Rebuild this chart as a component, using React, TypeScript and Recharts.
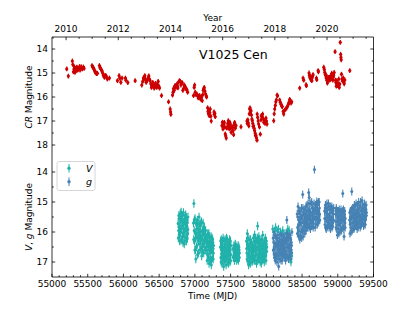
import React from 'react';
import { ScatterChart, Scatter, XAxis, YAxis, ErrorBar } from 'recharts';

const FONT = '"DejaVu Sans", Verdana, sans-serif';

// CR light curve, [MJD, magnitude]
const crPoints: [number, number][] = [
  [55206, 14.83], [55229, 15.13], [55285, 14.5], [55292, 14.65], [55300, 14.95], [55308, 14.83], [55315, 14.75],
  [55322, 14.97], [55330, 14.85], [55336, 14.9], [55343, 14.78], [55350, 14.76], [55357, 14.88], [55364, 14.86],
  [55372, 14.8], [55379, 14.81], [55386, 14.73], [55393, 14.88], [55402, 14.8], [55411, 14.74], [55425, 14.83],
  [55440, 14.75], [55449, 14.81],
  [55561, 14.69], [55568, 14.75], [55579, 14.78], [55590, 14.85], [55598, 14.92], [55607, 14.98], [55617, 15.0],
  [55626, 15.03], [55636, 15.01], [55664, 14.69], [55672, 14.78], [55682, 14.82], [55692, 14.88], [55701, 14.92],
  [55710, 15.0], [55718, 15.08], [55726, 15.12], [55734, 15.18], [55745, 15.1], [55757, 15.12], [55766, 15.2],
  [55776, 15.25], [55804, 15.21],
  [55916, 15.32], [55939, 15.11], [55950, 15.22], [55963, 15.39], [55981, 15.21], [56028, 15.21], [56035, 15.3],
  [56061, 15.4], [56164, 15.32],
  [56257, 15.5], [56270, 15.35], [56280, 15.21], [56290, 15.18], [56299, 15.11], [56308, 15.28], [56318, 15.39],
  [56327, 15.32], [56336, 15.29], [56346, 15.2], [56355, 15.12], [56364, 15.25], [56374, 15.32], [56383, 15.45],
  [56392, 15.6], [56402, 15.5], [56411, 15.39], [56420, 15.55], [56430, 15.63], [56440, 15.5], [56449, 15.43],
  [56458, 15.58], [56467, 15.6], [56476, 15.48], [56486, 15.35], [56495, 15.55], [56505, 15.63], [56533, 15.94],
  [56631, 16.2], [56654, 16.5], [56660, 16.62], [56664, 16.72], [56687, 15.92], [56695, 15.8], [56701, 15.65],
  [56710, 15.72], [56718, 15.55], [56725, 15.53], [56735, 15.6], [56748, 15.46], [56756, 15.55], [56762, 15.62],
  [56771, 15.38], [56785, 15.32], [56795, 15.35], [56804, 15.5], [56812, 15.42], [56822, 15.4], [56832, 15.72],
  [56841, 15.65], [56850, 15.5], [56860, 15.55], [56870, 15.62], [56879, 15.67], [56889, 15.7], [56898, 15.8],
  [56981, 15.94], [56990, 15.6], [56996, 15.5], [57005, 15.8], [57015, 15.9], [57028, 15.88], [57038, 15.95],
  [57047, 16.04], [57055, 15.98], [57066, 15.94], [57075, 16.05], [57085, 16.1], [57095, 16.0], [57103, 16.15],
  [57110, 15.9], [57117, 15.72], [57124, 15.65], [57131, 15.6], [57140, 15.75], [57150, 15.88], [57158, 15.95],
  [57164, 16.0], [57178, 16.45], [57184, 16.6], [57190, 16.7], [57196, 16.55], [57201, 16.78], [57208, 16.65],
  [57215, 16.5], [57222, 16.8], [57229, 17.0], [57268, 16.62], [57271, 16.72], [57278, 16.68], [57285, 16.82],
  [57379, 17.19], [57386, 17.05], [57393, 17.33], [57400, 17.2], [57406, 17.12], [57412, 17.06], [57418, 17.25],
  [57425, 17.54], [57432, 17.62], [57439, 17.71], [57446, 17.3], [57453, 17.24], [57460, 17.1], [57467, 16.99],
  [57474, 17.2], [57481, 17.33], [57488, 17.05], [57496, 17.13], [57502, 17.3], [57509, 17.47], [57516, 17.25],
  [57528, 17.26], [57535, 17.4], [57542, 17.57], [57549, 17.15], [57556, 17.06], [57565, 17.3], [57575, 17.19],
  [57645, 17.24],
  [57729, 17.0], [57734, 17.1], [57741, 16.95], [57748, 17.08], [57755, 17.2], [57762, 16.7], [57766, 16.5],
  [57772, 16.45], [57779, 16.6], [57785, 16.57], [57792, 16.75], [57798, 16.92], [57804, 16.98], [57810, 17.1],
  [57816, 17.22], [57822, 17.2], [57829, 17.3], [57836, 17.4], [57843, 17.5], [57849, 17.6], [57855, 17.61],
  [57862, 17.7], [57869, 17.8], [57872, 16.71], [57879, 16.85], [57886, 17.0], [57892, 17.13], [57904, 17.25],
  [57916, 17.55], [57925, 16.95], [57930, 16.78], [57940, 16.8], [57948, 16.71], [57955, 16.9], [57965, 17.05],
  [57972, 16.99], [57982, 17.1], [57995, 16.88], [58002, 17.0], [58009, 17.13],
  [58103, 16.99], [58110, 16.7], [58117, 16.5], [58126, 16.35], [58133, 16.2], [58140, 16.12], [58150, 15.92],
  [58157, 15.95], [58187, 16.13], [58196, 16.22], [58206, 16.3], [58214, 16.38], [58224, 16.4], [58236, 16.6],
  [58243, 16.71], [58256, 16.55], [58271, 16.5], [58285, 16.45], [58299, 16.38], [58308, 16.3], [58318, 16.22],
  [58327, 16.1], [58336, 16.15], [58346, 16.25], [58355, 16.2],
  [58467, 15.63], [58514, 15.21], [58523, 15.3], [58556, 15.49], [58561, 15.53], [58598, 15.0], [58603, 15.1],
  [58610, 15.2], [58617, 15.15], [58625, 15.25], [58632, 15.3], [58636, 15.32], [58641, 15.2], [58648, 15.12],
  [58654, 15.07], [58701, 15.21], [58706, 15.28], [58725, 14.9], [58729, 14.95],
  [58804, 14.76], [58812, 14.85], [58818, 14.97], [58825, 15.05], [58832, 15.1], [58837, 15.2], [58841, 15.11],
  [58848, 15.3], [58855, 15.42], [58860, 15.32], [58868, 15.25], [58874, 15.18], [58879, 15.18], [58887, 15.3],
  [58893, 15.25], [58897, 15.25], [58905, 15.1], [58910, 15.22], [58916, 15.01], [58922, 15.15], [58930, 15.3],
  [58935, 15.18], [58942, 15.1], [58950, 14.98], [58962, 14.11], [58968, 15.3], [58974, 15.4], [58980, 15.55],
  [58986, 15.32], [58993, 15.5], [59000, 15.53], [59007, 15.45], [59014, 15.25], [59021, 15.6], [59028, 15.46],
  [59035, 13.72], [59040, 14.22], [59044, 14.35], [59048, 14.45], [59052, 15.05], [59058, 15.25], [59066, 15.32],
  [59077, 15.2], [59084, 15.39], [59090, 15.45], [59098, 15.29], [59168, 14.9],
];

// V band, [MJD, magnitude]
const vPoints: [number, number][] = [
  [56765, 15.72], [56772, 15.95], [56778, 15.55], [56784, 16.1], [56790, 15.8], [56795, 15.38], [56801, 16.02],
  [56806, 15.65], [56812, 15.9], [56818, 16.25], [56823, 15.45], [56829, 15.78], [56835, 16.05], [56840, 15.35],
  [56846, 15.88], [56851, 16.4], [56857, 15.6], [56862, 15.98], [56868, 15.75], [56874, 16.18], [56879, 15.5],
  [56885, 15.85], [56890, 16.08], [56896, 15.68], [56902, 15.92], [56787, 16.3], [56820, 15.62], [56848, 16.15],
  [56870, 15.42], [56893, 16.22], [56808, 15.33], [56833, 16.35],
  [56768, 16.2], [56775, 15.45], [56781, 15.85], [56793, 16.0], [56798, 15.6], [56804, 16.28], [56815, 15.5],
  [56826, 16.15], [56838, 15.7], [56843, 16.0], [56854, 15.55], [56860, 16.3], [56865, 15.7], [56876, 15.9],
  [56882, 16.3], [56888, 15.6], [56899, 16.05], [56903, 15.5],
  [56980, 15.7], [56986, 15.05], [56990, 15.95], [56996, 16.3], [57002, 15.55], [57008, 16.6], [57013, 16.9],
  [57018, 16.05], [57024, 15.75], [57030, 16.45], [57035, 15.6], [57041, 16.2], [57047, 15.9], [57052, 16.7],
  [57058, 15.5], [57064, 16.1], [57070, 16.4], [57075, 15.8], [57081, 16.0], [57087, 16.55], [57092, 15.65],
  [57098, 16.25], [57104, 15.95], [57110, 16.65], [57115, 15.7], [57121, 16.35], [57127, 16.05], [57133, 15.85],
  [57138, 16.5], [57144, 16.15], [57150, 15.95], [57010, 16.2], [57060, 16.0], [57100, 16.5],
  [56983, 16.25], [56993, 15.6], [56999, 16.6], [57005, 16.0], [57016, 15.7], [57021, 16.5], [57027, 16.15],
  [57033, 15.9], [57038, 16.75], [57044, 15.7], [57050, 16.3], [57055, 16.05], [57067, 15.75], [57073, 16.6],
  [57078, 16.25], [57084, 15.7], [57090, 16.2], [57095, 16.8], [57107, 16.1], [57113, 16.4], [57118, 15.9],
  [57124, 16.7], [57130, 16.3], [57136, 16.0], [57141, 16.25], [57147, 16.6], [57153, 16.3],
  [57162, 16.2], [57167, 16.6], [57172, 16.95], [57177, 16.35], [57183, 16.75], [57188, 16.1], [57193, 16.5],
  [57199, 17.05], [57204, 16.3], [57210, 16.7], [57215, 16.45], [57221, 16.9], [57226, 16.15], [57232, 16.6],
  [57237, 16.4], [57243, 16.85], [57248, 16.25], [57254, 16.55], [57259, 16.7], [57196, 16.05], [57230, 17.1],
  [57164, 16.5], [57170, 16.25], [57175, 16.75], [57180, 16.05], [57186, 16.4], [57191, 16.85], [57202, 16.6],
  [57207, 16.2], [57213, 16.95], [57218, 16.6], [57224, 16.35], [57235, 16.95], [57240, 16.2], [57246, 16.55],
  [57251, 16.35], [57257, 16.9], [57261, 16.45],
  [57358, 16.5], [57364, 16.85], [57369, 16.25], [57375, 16.7], [57381, 17.05], [57386, 16.4], [57392, 16.9],
  [57398, 16.6], [57403, 17.15], [57409, 16.3], [57415, 16.75], [57420, 16.95], [57426, 16.45], [57432, 16.65],
  [57437, 17.1], [57443, 16.2], [57449, 16.8], [57454, 16.55], [57460, 17.0], [57466, 16.35], [57471, 16.7],
  [57477, 16.9], [57483, 16.5], [57488, 16.8], [57494, 16.6], [57500, 16.95], [57504, 16.45],
  [57361, 16.3], [57367, 17.0], [57372, 16.55], [57378, 16.35], [57384, 16.75], [57389, 16.6], [57395, 16.2],
  [57401, 16.85], [57406, 16.55], [57412, 16.95], [57418, 16.5], [57423, 16.25], [57429, 16.9], [57435, 16.4],
  [57440, 16.85], [57446, 16.6], [57452, 16.25], [57457, 16.75], [57463, 16.55], [57469, 17.05], [57474, 16.45],
  [57480, 16.7], [57486, 16.25], [57491, 17.0], [57497, 16.3], [57502, 16.75],
  [57535, 16.55], [57541, 16.8], [57547, 16.45], [57553, 16.95], [57559, 16.65], [57565, 16.4], [57571, 16.85],
  [57577, 16.6], [57583, 16.75], [57589, 16.5], [57595, 16.9], [57601, 16.7], [57607, 16.45], [57613, 16.8],
  [57619, 16.6], [57624, 16.7],
  [57538, 16.85], [57544, 16.6], [57550, 16.7], [57556, 16.5], [57562, 16.85], [57568, 16.6], [57574, 16.45],
  [57580, 16.95], [57586, 16.65], [57592, 16.55], [57598, 16.8], [57604, 16.6], [57610, 16.95], [57616, 16.5],
  [57622, 16.85],
  [57722, 16.3], [57728, 16.7], [57734, 16.05], [57740, 16.95], [57746, 16.5], [57752, 17.1], [57758, 16.25],
  [57764, 16.8], [57770, 16.6], [57776, 17.05], [57782, 16.4], [57788, 16.85], [57794, 16.65], [57800, 17.0],
  [57806, 16.45], [57812, 16.75], [57818, 16.2], [57824, 16.9], [57830, 16.55], [57836, 16.1], [57842, 16.8],
  [57848, 16.35], [57854, 16.95], [57860, 16.6], [57866, 16.3], [57872, 16.75], [57878, 15.8], [57884, 16.5],
  [57890, 16.9], [57896, 16.15], [57902, 16.7], [57908, 16.4], [57914, 17.0], [57920, 16.55], [57926, 16.25],
  [57932, 16.85], [57938, 16.45], [57944, 16.7], [57950, 16.1], [57956, 16.6], [57962, 16.9], [57968, 16.35],
  [57974, 16.75], [57980, 16.5], [57986, 16.2], [57992, 16.8], [57998, 16.4], [58004, 16.65],
  [57725, 16.55], [57731, 16.9], [57737, 16.4], [57743, 16.2], [57749, 16.75], [57755, 16.55], [57761, 17.0],
  [57767, 16.4], [57773, 16.85], [57779, 16.25], [57785, 16.6], [57791, 16.4], [57797, 16.8], [57803, 16.6],
  [57809, 16.95], [57815, 16.5], [57821, 16.65], [57827, 16.3], [57833, 16.95], [57839, 16.45], [57845, 16.6],
  [57851, 16.2], [57857, 16.75], [57863, 17.05], [57869, 16.5], [57875, 16.2], [57881, 16.95], [57887, 16.35],
  [57893, 16.6], [57899, 16.85], [57905, 16.3], [57911, 16.6], [57917, 16.8], [57923, 16.45], [57929, 17.05],
  [57935, 16.55], [57941, 16.25], [57947, 16.9], [57953, 16.4], [57959, 16.75], [57965, 16.55], [57971, 17.0],
  [57977, 16.3], [57983, 16.65], [57989, 16.5], [57995, 16.95], [58001, 16.3], [58007, 16.5],
  [58090, 15.9], [58110, 16.0], [58130, 15.85], [58150, 15.95], [58170, 15.9], [58200, 16.0], [58230, 15.95],
  [58260, 16.05], [58300, 15.9], [58320, 15.95], [58330, 16.9], [58345, 17.0], [58355, 16.8],
];

// g band, [MJD, magnitude]
const gPoints: [number, number][] = [
  [58095, 16.2], [58101, 16.6], [58107, 16.0], [58113, 16.85], [58119, 16.4], [58125, 16.95], [58131, 16.15],
  [58137, 16.7], [58143, 16.35], [58149, 17.0], [58155, 16.5], [58161, 16.1], [58167, 16.8], [58173, 17.15],
  [58179, 16.3], [58185, 16.65], [58191, 16.9], [58197, 16.05], [58203, 16.55], [58209, 16.75], [58215, 16.25],
  [58221, 16.95], [58227, 16.45], [58233, 16.1], [58239, 16.7], [58245, 16.35], [58251, 16.85], [58257, 16.2],
  [58263, 16.6], [58269, 16.95], [58275, 16.4], [58281, 16.05], [58287, 15.6], [58293, 16.75], [58299, 16.3],
  [58305, 16.55], [58311, 16.9], [58317, 16.15], [58323, 16.65], [58329, 16.4], [58335, 16.8], [58341, 16.25],
  [58347, 16.6], [58353, 16.45], [58358, 16.0],
  [58098, 16.6], [58104, 16.35], [58110, 16.75], [58116, 16.1], [58122, 16.55], [58128, 16.8], [58134, 16.45],
  [58140, 16.9], [58146, 16.2], [58152, 16.75], [58158, 16.35], [58164, 16.6], [58170, 16.45], [58176, 16.9],
  [58182, 16.2], [58188, 16.45], [58194, 16.7], [58200, 16.35], [58206, 16.95], [58212, 16.5], [58218, 16.1],
  [58224, 16.65], [58230, 16.8], [58236, 16.3], [58242, 16.55], [58248, 16.15], [58254, 16.5], [58260, 16.75],
  [58266, 16.3], [58272, 16.65], [58278, 16.85], [58284, 16.25], [58290, 16.5], [58296, 16.05], [58302, 16.85],
  [58308, 16.2], [58314, 16.45], [58320, 16.75], [58326, 16.05], [58332, 16.55], [58338, 16.2], [58344, 16.9],
  [58350, 16.35], [58356, 16.7],
  [58432, 15.4], [58438, 15.85], [58444, 15.15], [58450, 16.1], [58456, 15.6], [58462, 15.3], [58468, 16.25],
  [58474, 15.75], [58480, 15.5], [58486, 16.0], [58492, 15.2], [58498, 15.9], [58504, 15.55], [58509, 14.75],
  [58515, 16.15], [58521, 15.35], [58527, 15.8], [58533, 15.65], [58539, 16.05], [58545, 15.25], [58551, 15.7],
  [58557, 15.95], [58563, 15.45], [58569, 15.1], [58575, 15.85], [58581, 15.6], [58587, 15.3], [58593, 14.68],
  [58599, 15.75], [58605, 15.5], [58611, 15.05], [58617, 15.9], [58623, 15.35], [58629, 15.65], [58635, 15.0],
  [58641, 15.8], [58647, 15.45], [58653, 15.2], [58659, 15.7], [58665, 15.55], [58673, 13.92], [58677, 15.3],
  [58683, 15.85], [58689, 15.1], [58695, 15.6], [58701, 15.4], [58707, 14.98], [58713, 15.75], [58719, 15.25],
  [58725, 15.55], [58731, 15.0], [58737, 15.45], [58743, 15.2], [58748, 15.6], [58600, 14.85],
  [58435, 16.05], [58441, 15.5], [58447, 15.8], [58453, 15.3], [58459, 15.95], [58465, 15.65], [58471, 15.4],
  [58477, 16.15], [58483, 15.3], [58489, 15.7], [58495, 16.2], [58501, 15.45], [58507, 15.95], [58512, 15.2],
  [58518, 15.7], [58524, 15.95], [58530, 15.25], [58536, 15.5], [58542, 15.85], [58548, 15.45], [58554, 15.15],
  [58560, 15.75], [58566, 15.6], [58572, 15.3], [58578, 15.75], [58584, 15.05], [58590, 15.5], [58596, 15.85],
  [58602, 15.25], [58608, 15.7], [58614, 15.35], [58620, 15.6], [58626, 15.05], [58632, 15.8], [58638, 15.45],
  [58644, 15.2], [58650, 15.6], [58656, 15.85], [58662, 15.3], [58668, 15.05], [58680, 15.5], [58686, 15.25],
  [58692, 15.75], [58698, 15.15], [58704, 15.5], [58710, 15.3], [58716, 15.05], [58722, 15.7], [58728, 15.35],
  [58734, 15.65], [58740, 15.0], [58746, 15.4],
  [58815, 15.3], [58821, 15.75], [58827, 15.1], [58833, 15.55], [58839, 15.9], [58845, 15.2], [58851, 15.65],
  [58857, 15.4], [58863, 15.85], [58869, 15.05], [58875, 15.5], [58881, 15.7], [58887, 15.25], [58893, 15.6],
  [58899, 15.9], [58905, 15.35], [58911, 15.75], [58917, 15.15], [58923, 15.5], [58929, 15.8], [58935, 15.3],
  [58941, 15.6],
  [58818, 15.55], [58824, 15.2], [58830, 15.85], [58836, 15.35], [58842, 15.55], [58848, 15.05], [58854, 15.8],
  [58860, 15.25], [58866, 15.5], [58872, 15.75], [58878, 15.15], [58884, 15.45], [58890, 15.85], [58896, 15.15],
  [58902, 15.55], [58908, 15.2], [58914, 15.6], [58920, 15.85], [58926, 15.25], [58932, 15.65], [58938, 15.4],
  [58943, 15.2],
  [58970, 15.4], [58976, 15.85], [58982, 15.25], [58988, 15.65], [58994, 16.1], [59000, 15.5], [59006, 15.9],
  [59012, 15.3], [59018, 15.75], [59024, 15.55], [59030, 16.0], [59036, 15.35], [59042, 15.7], [59048, 15.45],
  [59054, 15.95], [59060, 15.6], [59066, 15.3], [59070, 14.72], [59076, 15.8], [59082, 15.5], [59088, 16.15],
  [59094, 15.4], [59100, 15.7], [59105, 15.55],
  [58973, 15.65], [58979, 15.2], [58985, 15.9], [58991, 15.45], [58997, 15.3], [59003, 15.75], [59009, 15.55],
  [59015, 16.05], [59021, 15.25], [59027, 15.7], [59033, 15.45], [59039, 15.9], [59045, 15.25], [59051, 15.6],
  [59057, 15.35], [59063, 15.85], [59073, 15.55], [59079, 15.25], [59085, 15.9], [59091, 15.65], [59097, 15.3],
  [59103, 15.85],
  [59165, 15.6], [59171, 16.05], [59177, 15.3], [59183, 15.85], [59189, 15.5], [59196, 14.65], [59202, 15.95],
  [59208, 15.2], [59214, 15.7], [59220, 15.45], [59226, 15.9], [59232, 15.1], [59238, 15.6], [59244, 15.35],
  [59250, 15.8], [59256, 15.05], [59262, 15.55], [59268, 15.75], [59274, 15.25], [59280, 15.5], [59286, 15.85],
  [59292, 15.0], [59298, 15.45], [59304, 15.65], [59310, 15.15], [59316, 15.55], [59322, 15.8], [59328, 15.3],
  [59334, 15.6], [59340, 14.95], [59346, 15.4], [59352, 15.7], [59358, 15.2], [59364, 15.5], [59370, 15.75],
  [59376, 15.05], [59382, 15.35], [59388, 15.6], [59394, 15.25], [59400, 15.45],
  [59168, 15.35], [59174, 15.75], [59180, 15.55], [59186, 16.0], [59192, 15.25], [59199, 15.7], [59205, 15.45],
  [59211, 15.9], [59217, 15.25], [59223, 15.65], [59229, 15.4], [59235, 15.85], [59241, 15.15], [59247, 15.55],
  [59253, 15.3], [59259, 15.7], [59265, 15.4], [59271, 15.9], [59277, 15.1], [59283, 15.65], [59289, 15.35],
  [59295, 15.7], [59301, 15.2], [59307, 15.5], [59313, 15.85], [59319, 15.0], [59325, 15.45], [59331, 15.75],
  [59337, 15.25], [59343, 15.55], [59349, 15.1], [59355, 15.5], [59361, 15.8], [59367, 15.3], [59373, 15.55],
  [59379, 15.2], [59385, 15.75], [59391, 15.45], [59397, 15.1], [59402, 15.35],
];

const CR_ERR = 0.1;
const V_ERR = 0.14;
const G_ERR = 0.13;

const mjdLabels = [55000, 55500, 56000, 56500, 57000, 57500, 58000, 58500, 59000, 59500];
const yearLabels = [2010, 2012, 2014, 2016, 2018, 2020];
const crLabels = [14, 15, 16, 17, 18];
const vgLabels = [14, 15, 16, 17];

const RED = '#cc0000';
const TEAL = '#20b2aa';
const BLUE = '#4682b4';

const MJD_DOMAIN: [number, number] = [55000, 59500];
const CR_DOMAIN: [number, number] = [13.5, 18.5];
const VG_DOMAIN: [number, number] = [13.5, 17.5];

const steps = (from: number, to: number, step: number) => {
  const out: number[] = [];
  for (let v = from; v <= to + 1e-9; v += step) out.push(Math.round(v * 1000) / 1000);
  return out;
};
const toMjd = (year: number) => 51544.5 + (year - 2000) * 365.25;
const toYear = (mjd: number) => 2000 + (mjd - 51544.5) / 365.25;

const mjdTicks = steps(55000, 59500, 100);
const yearTicks = steps(2009.5, 2021.5, 0.5).map(toMjd);
const crTicks = steps(14, 18, 0.5);
const vgTicks = steps(14, 17, 0.5);

const toRows = (pts: [number, number][], err: number) => pts.map(([mjd, mag]) => ({ mjd, mag, err }));
const crData = toRows(crPoints, CR_ERR);
const vData = toRows(vPoints, V_ERR);
const gData = toRows(gPoints, G_ERR);

const MAJOR = 3.2;
const MINOR = 1.8;
const LINE = { stroke: '#000', strokeWidth: 0.8 };
const txt = { fontFamily: FONT, fontSize: 9, fill: '#000' };

// ticks point inward, like matplotlib direction='in'
const xTick = (dir: 1 | -1, labels: number[] | null) => (p: any) => {
  const v = p.payload.value;
  const major = mjdLabels.includes(v);
  return (
    <g>
      <line x1={p.x} x2={p.x} y1={p.y} y2={p.y + dir * (major ? MAJOR : MINOR)} {...LINE} />
      {labels && labels.includes(v) && (
        <text x={p.x} y={p.y + 10} textAnchor="middle" {...txt}>{v}</text>
      )}
    </g>
  );
};

const yearTick = (p: any) => {
  const yr = toYear(p.payload.value);
  const r = Math.round(yr);
  const major = Math.abs(yr - r) < 1e-6 && yearLabels.includes(r);
  return (
    <g>
      <line x1={p.x} x2={p.x} y1={p.y} y2={p.y + (major ? MAJOR : MINOR)} {...LINE} />
      {major && (
        <text x={p.x} y={p.y - 5} textAnchor="middle" {...txt}>{r}</text>
      )}
    </g>
  );
};

const yTick = (dir: 1 | -1, labels: number[], show: boolean) => (p: any) => {
  const v = p.payload.value;
  const major = labels.includes(v);
  return (
    <g>
      <line x1={p.x} x2={p.x + dir * (major ? MAJOR : MINOR)} y1={p.y} y2={p.y} {...LINE} />
      {show && major && (
        <text x={p.x - 4} y={p.y} dy="0.36em" textAnchor="end" {...txt}>{v}</text>
      )}
    </g>
  );
};

const yTitle = (content: React.ReactNode) => (props: any) => {
  const vb = props.viewBox;
  const cy = vb.y + vb.height / 2;
  return (
    <text x={29} y={cy} textAnchor="middle" dominantBaseline="central" transform={`rotate(-90 29 ${cy})`} {...txt}>
      {content}
    </text>
  );
};

const xTitle = (label: string, dy: number) => (props: any) => {
  const vb = props.viewBox;
  return (
    <text x={vb.x + vb.width / 2} y={vb.y + dy} textAnchor="middle" {...txt}>{label}</text>
  );
};

const dot = (color: string, r: number) => (p: any) => <circle cx={p.cx} cy={p.cy} r={r} fill={color} />;

const axisCommon = {
  type: 'number' as const,
  allowDataOverflow: true,
  interval: 0 as const,
  tickLine: false,
  tickSize: 0,
  tickMargin: 0,
  axisLine: LINE,
};

export default function App() {
  return (
    <div style={{ position: 'absolute', left: 0, top: 0, width: 415, height: 311, background: '#fff' }}>
      <ScatterChart width={415} height={157} margin={{ top: 0, right: 0, bottom: 0, left: 0 }}>
        <XAxis
          {...axisCommon}
          xAxisId="year"
          orientation="top"
          dataKey="mjd"
          domain={MJD_DOMAIN}
          ticks={yearTicks}
          tick={yearTick}
          height={37}
          label={{ content: xTitle('Year', 21) }}
        />
        <XAxis
          {...axisCommon}
          xAxisId="mjd"
          orientation="bottom"
          dataKey="mjd"
          domain={MJD_DOMAIN}
          ticks={mjdTicks}
          tick={xTick(-1, null)}
          height={0}
        />
        <YAxis
          {...axisCommon}
          yAxisId="cr"
          orientation="left"
          dataKey="mag"
          reversed
          domain={CR_DOMAIN}
          ticks={crTicks}
          tick={yTick(1, crLabels, true)}
          width={52}
          label={{ content: yTitle(<><tspan fontStyle="italic">CR</tspan> Magnitude</>) }}
        />
        <YAxis
          {...axisCommon}
          yAxisId="crRight"
          orientation="right"
          reversed
          domain={CR_DOMAIN}
          ticks={crTicks}
          tick={yTick(-1, crLabels, false)}
          width={41.5}
        />
        <Scatter data={crData} xAxisId="mjd" yAxisId="cr" shape={dot(RED, 1.6)} isAnimationActive={false}>
          <ErrorBar dataKey="err" direction="y" width={0} stroke={RED} strokeWidth={1.3} />
        </Scatter>
      </ScatterChart>

      <ScatterChart width={415} height={154} margin={{ top: 0, right: 0, bottom: 0, left: 0 }}>
        <XAxis
          {...axisCommon}
          xAxisId="mjdTop"
          orientation="top"
          domain={MJD_DOMAIN}
          ticks={mjdTicks}
          tick={xTick(1, null)}
          height={0}
        />
        <XAxis
          {...axisCommon}
          xAxisId="mjd"
          orientation="bottom"
          dataKey="mjd"
          domain={MJD_DOMAIN}
          ticks={mjdTicks}
          tick={xTick(-1, mjdLabels)}
          height={34}
          label={{ content: xTitle('Time (MJD)', 22) }}
        />
        <YAxis
          {...axisCommon}
          yAxisId="vg"
          orientation="left"
          dataKey="mag"
          reversed
          domain={VG_DOMAIN}
          ticks={vgTicks}
          tick={yTick(1, vgLabels, true)}
          width={52}
          label={{
            content: yTitle(
              <>
                <tspan fontStyle="italic">V</tspan>, <tspan fontStyle="italic">g</tspan> Magnitude
              </>
            ),
          }}
        />
        <YAxis
          {...axisCommon}
          yAxisId="vgRight"
          orientation="right"
          reversed
          domain={VG_DOMAIN}
          ticks={vgTicks}
          tick={yTick(-1, vgLabels, false)}
          width={41.5}
        />
        <Scatter data={vData} xAxisId="mjd" yAxisId="vg" shape={dot(TEAL, 1.5)} isAnimationActive={false}>
          <ErrorBar dataKey="err" direction="y" width={0} stroke={TEAL} strokeWidth={1.1} />
        </Scatter>
        <Scatter data={gData} xAxisId="mjd" yAxisId="vg" shape={dot(BLUE, 1.5)} isAnimationActive={false}>
          <ErrorBar dataKey="err" direction="y" width={0} stroke={BLUE} strokeWidth={1.1} />
        </Scatter>
      </ScatterChart>

      <svg width={415} height={311} style={{ position: 'absolute', left: 0, top: 0, pointerEvents: 'none' }}>
        <text x={199} y={58.5} fontFamily={FONT} fontSize={12.5} fill="#000">V1025 Cen</text>
        <rect x={57} y={161.5} width={38} height={29} rx={2} fill="#fff" fillOpacity={0.8} stroke="#cccccc" strokeWidth={0.8} />
        <line x1={69} x2={69} y1={164} y2={172.6} stroke={TEAL} strokeWidth={1} />
        <circle cx={69} cy={168.3} r={1.7} fill={TEAL} />
        <text x={86} y={171.6} fontFamily={FONT} fontSize={9.5} fontStyle="italic" fill="#000">V</text>
        <line x1={69} x2={69} y1={177.4} y2={186} stroke={BLUE} strokeWidth={1} />
        <circle cx={69} cy={181.7} r={1.7} fill={BLUE} />
        <text x={86} y={184.5} fontFamily={FONT} fontSize={9.5} fontStyle="italic" fill="#000">g</text>
      </svg>
    </div>
  );
}
